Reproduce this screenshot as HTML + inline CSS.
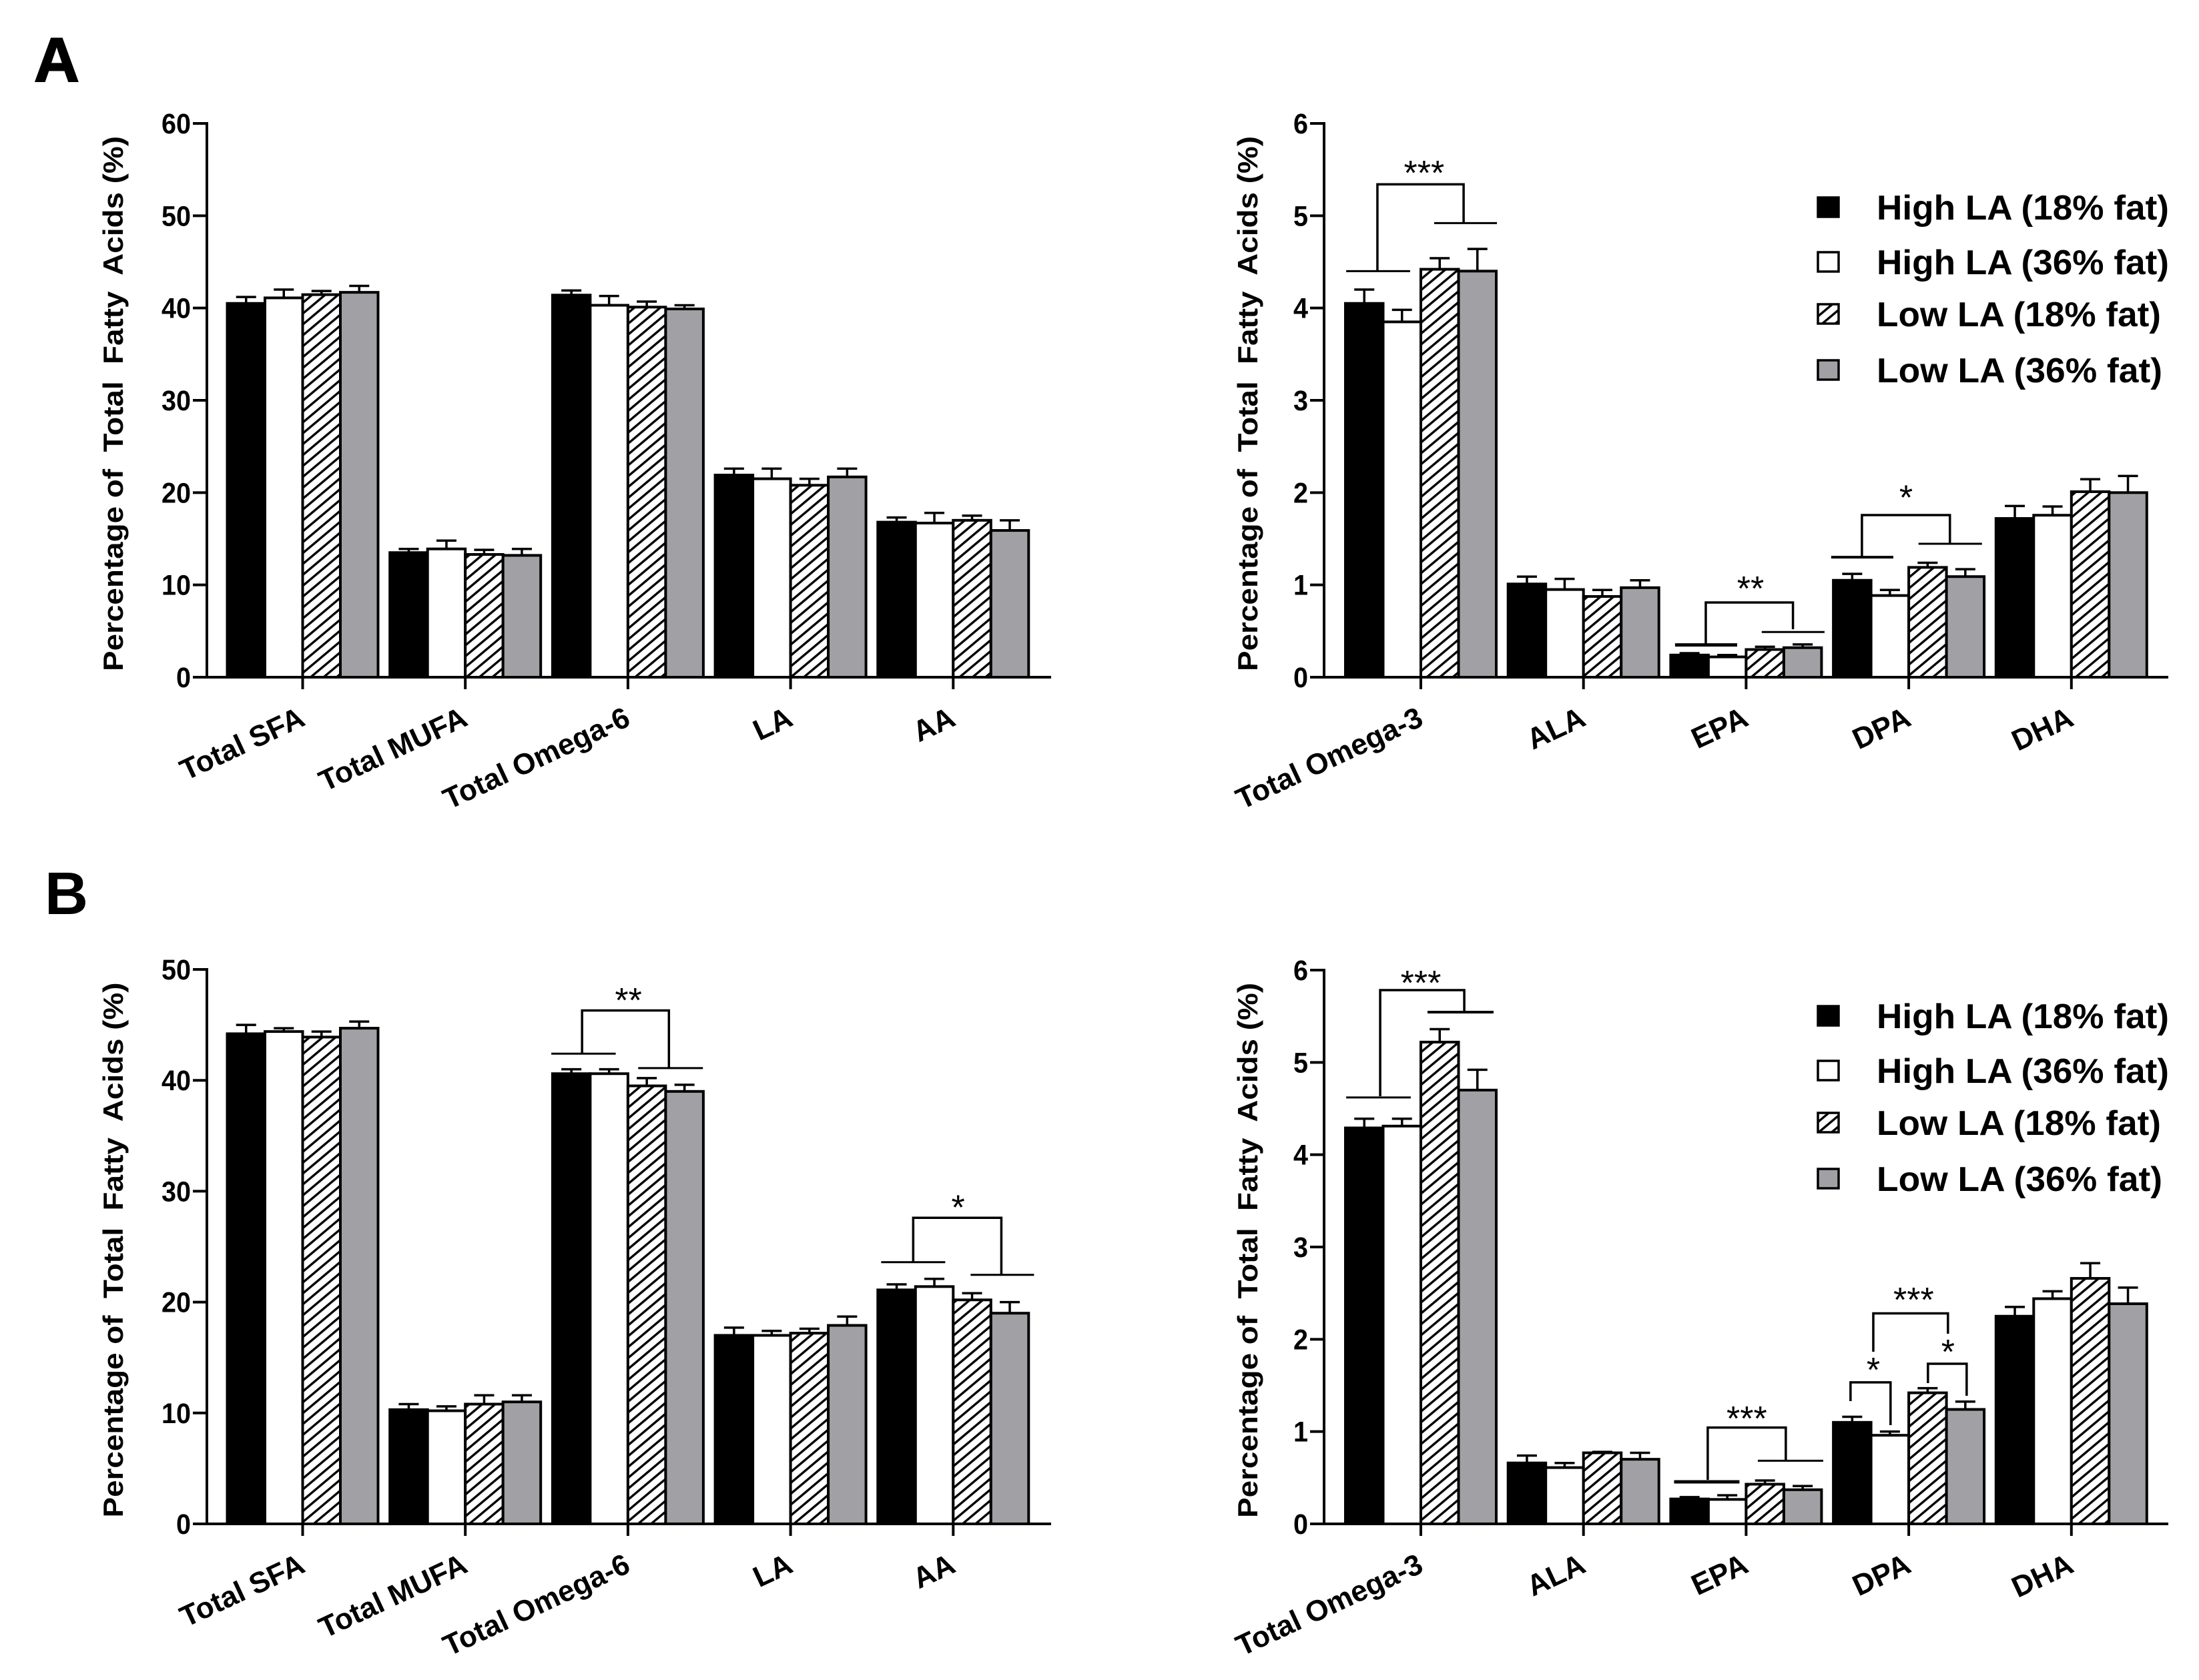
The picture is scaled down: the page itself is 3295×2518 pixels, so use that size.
<!DOCTYPE html>
<html lang="en">
<head>
<meta charset="utf-8">
<title>Fatty acid composition by diet</title>
<style>
html,body{margin:0;padding:0;background:#fff;}
svg{display:block;font-family:"Liberation Sans",Arial,sans-serif;}
text{white-space:pre;}
</style>
</head>
<body>
<svg id="figure" xmlns="http://www.w3.org/2000/svg" width="3295" height="2518" viewBox="0 0 3295 2518">
  <defs>
    <pattern id="hatch" patternUnits="userSpaceOnUse" width="12.5" height="12.5" patternTransform="rotate(50)">
      <rect width="12.5" height="12.5" fill="#fff"/>
      <rect x="0" y="0" width="3.4" height="12.5" fill="#000"/>
    </pattern>
  </defs>
  <rect width="3295" height="2518" fill="#fff"/>
  <text x="51" y="122" font-size="94" font-weight="700" stroke="#000" stroke-width="2">A</text>
  <text x="67" y="1370" font-size="90" font-weight="700">B</text>
  <g id="charts"></g>
</svg>
<script>
// ---------- Shared labels ----------
const groupNames = ['High LA (18% fat)', 'High LA (36% fat)', 'Low LA (18% fat)', 'Low LA (36% fat)'];
const lipidCategories = ['Total SFA', 'Total MUFA', 'Total Omega-6', 'LA', 'AA'];
const omegaCategories = ['Total Omega-3', 'ALA', 'EPA', 'DPA', 'DHA'];
const yTitle = 'Percentage of  Total  Fatty  Acids (%)';
const ticksLipidA = [0, 10, 20, 30, 40, 50, 60];
const ticksLipidB = [0, 10, 20, 30, 40, 50];
const ticksOmega = [0, 1, 2, 3, 4, 5, 6];

// ---------- Panel A, lipid classes ----------
const aLeftHigh18 = [40.5, 13.5, 41.4, 21.9, 16.8];
const aLeftHigh36 = [41.1, 13.9, 40.3, 21.5, 16.7];
const aLeftLow18 = [41.45, 13.3, 40.1, 20.8, 17.0];
const aLeftLow36 = [41.7, 13.2, 39.9, 21.7, 15.9];
const aLeftHigh18Err = [0.7, 0.4, 0.5, 0.7, 0.5];
const aLeftHigh36Err = [0.9, 0.9, 1.0, 1.1, 1.1];
const aLeftLow18Err = [0.4, 0.5, 0.6, 0.7, 0.5];
const aLeftLow36Err = [0.7, 0.7, 0.4, 0.9, 1.1];

// ---------- Panel A, omega-3 ----------
const aRightHigh18 = [4.05, 1.01, 0.24, 1.05, 1.72];
const aRightHigh36 = [3.85, 0.95, 0.22, 0.885, 1.755];
const aRightLow18 = [4.42, 0.875, 0.30, 1.19, 2.01];
const aRightLow36 = [4.40, 0.97, 0.32, 1.09, 2.00];
const aRightHigh18Err = [0.15, 0.08, 0.02, 0.07, 0.135];
const aRightHigh36Err = [0.13, 0.115, 0.02, 0.06, 0.095];
const aRightLow18Err = [0.12, 0.07, 0.03, 0.05, 0.135];
const aRightLow36Err = [0.24, 0.08, 0.035, 0.08, 0.18];

// ---------- Panel B, lipid classes ----------
const bLeftHigh18 = [44.2, 10.3, 40.6, 17.0, 21.1];
const bLeftHigh36 = [44.4, 10.2, 40.6, 17.0, 21.4];
const bLeftLow18 = [43.9, 10.8, 39.5, 17.2, 20.2];
const bLeftLow36 = [44.7, 11.0, 39.0, 17.9, 19.0];
const bLeftHigh18Err = [0.8, 0.5, 0.4, 0.7, 0.5];
const bLeftHigh36Err = [0.3, 0.4, 0.4, 0.4, 0.7];
const bLeftLow18Err = [0.5, 0.8, 0.7, 0.4, 0.6];
const bLeftLow36Err = [0.6, 0.6, 0.6, 0.8, 1.0];

// ---------- Panel B, omega-3 ----------
const bRightHigh18 = [4.29, 0.66, 0.27, 1.10, 2.25];
const bRightHigh36 = [4.31, 0.61, 0.265, 0.96, 2.44];
const bRightLow18 = [5.22, 0.77, 0.43, 1.42, 2.66];
const bRightLow36 = [4.70, 0.70, 0.37, 1.24, 2.385];
const bRightHigh18Err = [0.10, 0.08, 0.02, 0.06, 0.10];
const bRightHigh36Err = [0.08, 0.05, 0.045, 0.04, 0.08];
const bRightLow18Err = [0.14, 0.01, 0.04, 0.05, 0.165];
const bRightLow36Err = [0.22, 0.07, 0.04, 0.085, 0.175];

// ---------- Significance annotations: category units on x, data values on y ----------
// [left x, right x, bracket top value, left leg end value, right leg end value]
const aRightBrackets = [
  [-0.267, 0.263, 5.34, 4.40, 4.92],
  [1.752, 2.288, 0.81, 0.358, 0.52],
  [2.712, 3.253, 1.757, 1.30, 1.446]
];
// [left x, right x, value, stroke weight]
const aRightRules = [
  [-0.459, -0.066, 4.40, 3], [0.082, 0.468, 4.92, 3],
  [1.563, 1.945, 0.35, 5], [2.096, 2.482, 0.49, 3],
  [2.523, 2.905, 1.30, 4], [3.06, 3.45, 1.446, 3]
];
const aRightStars = [['***', 0.02, 5.51], ['**', 2.027, 1.005], ['*', 2.983, 1.99]];

const bLeftBrackets = [
  [1.718, 2.252, 46.3, 42.4, 41.1],
  [3.754, 4.296, 27.6, 23.6, 22.46]
];
const bLeftRules = [
  [1.529, 1.925, 42.4, 3], [2.063, 2.461, 41.1, 3],
  [3.557, 3.951, 23.6, 3], [4.107, 4.497, 22.46, 3]
];
const bLeftStars = [['**', 2.003, 47.6], ['*', 4.03, 28.9]];

const bRightBrackets = [
  [-0.25, 0.267, 5.783, 4.634, 5.545],
  [1.764, 2.244, 1.044, 0.477, 0.687],
  [2.642, 2.888, 1.533, 1.33, 1.07],
  [2.782, 3.241, 2.281, 1.865, 2.06],
  [3.118, 3.356, 1.735, 1.525, 1.388]
];
const bRightRules = [
  [-0.459, -0.062, 4.62, 3], [0.041, 0.447, 5.545, 4],
  [1.557, 1.959, 0.455, 5], [2.072, 2.474, 0.684, 3]
];
const bRightStars = [
  ['***', 0, 5.906], ['***', 2.004, 1.186], ['*', 2.782, 1.713],
  ['***', 3.03, 2.472], ['*', 3.241, 1.908]
];

// ---------- Panel definitions ----------
const panels = [
  { id: 'a-lipids', xZero: 453.5, axisX: 310, axisEnd: 1575, titleX: 184, yTop: 185, yBottom: 1015, max: 60,
    ticks: ticksLipidA, cats: lipidCategories,
    series: [aLeftHigh18, aLeftHigh36, aLeftLow18, aLeftLow36],
    errs: [aLeftHigh18Err, aLeftHigh36Err, aLeftLow18Err, aLeftLow36Err],
    brackets: [], rules: [], stars: [], legendRows: null },
  { id: 'a-omega3', xZero: 2129, axisX: 1984, axisEnd: 3249, titleX: 1884, yTop: 185, yBottom: 1015, max: 6,
    ticks: ticksOmega, cats: omegaCategories,
    series: [aRightHigh18, aRightHigh36, aRightLow18, aRightLow36],
    errs: [aRightHigh18Err, aRightHigh36Err, aRightLow18Err, aRightLow36Err],
    brackets: aRightBrackets, rules: aRightRules, stars: aRightStars, legendTop: 311 },
  { id: 'b-lipids', xZero: 453.5, axisX: 310, axisEnd: 1575, titleX: 184, yTop: 1453, yBottom: 2284, max: 50,
    ticks: ticksLipidB, cats: lipidCategories,
    series: [bLeftHigh18, bLeftHigh36, bLeftLow18, bLeftLow36],
    errs: [bLeftHigh18Err, bLeftHigh36Err, bLeftLow18Err, bLeftLow36Err],
    brackets: bLeftBrackets, rules: bLeftRules, stars: bLeftStars, legendRows: null },
  { id: 'b-omega3', xZero: 2129, axisX: 1984, axisEnd: 3249, titleX: 1884, yTop: 1454, yBottom: 2284, max: 6,
    ticks: ticksOmega, cats: omegaCategories,
    series: [bRightHigh18, bRightHigh36, bRightLow18, bRightLow36],
    errs: [bRightHigh18Err, bRightHigh36Err, bRightLow18Err, bRightLow36Err],
    brackets: bRightBrackets, rules: bRightRules, stars: bRightStars, legendTop: 1523 }
];

const fills = ['#000', '#fff', 'url(#hatch)', '#a1a1a5'];
const seriesSlugs = ['high-la-18', 'high-la-36', 'low-la-18', 'low-la-36'];
const legendOffsets = [0, 82, 160, 244];
const legendTextWidths = [438, 438, 426, 428];
const STEP = 243.7;
const BAR = 56.5;
const SVGNS = 'http://www.w3.org/2000/svg';
const root = document.getElementById('charts');

function make(tag, parent, props) {
  const node = document.createElementNS(SVGNS, tag);
  for (const key in props) node.setAttribute(key, props[key]);
  parent.appendChild(node);
  return node;
}

panels.forEach(function (p) {
  const xScale = function (c) { return p.xZero + c * STEP; };
  const yScale = function (v) { return p.yBottom - (v / p.max) * (p.yBottom - p.yTop); };

  const g = make('g', root, {});
  
  

  // bars and error bars
  p.series.forEach(function (values, s) {
    const sg = make('g', g, {});
    
    
    values.forEach(function (v, c) {
      const left = xScale(c) + (s - 2) * BAR;
      const top = yScale(v);
      const mid = left + BAR / 2;
      const errTop = yScale(v + p.errs[s][c]);

      const stem = make('line', sg, { x1: mid, x2: mid, y1: top, y2: errTop, stroke: '#000', 'stroke-width': 3.5 });
      
      

      const cap = make('line', sg, { x1: mid - 15, x2: mid + 15, y1: errTop, y2: errTop, stroke: '#000', 'stroke-width': 3.5 });
      
      

      const bar = make('rect', sg, { x: left, y: top, width: BAR, height: p.yBottom - top, fill: fills[s], stroke: '#000', 'stroke-width': 4 });
      
      
    });
  });

  // y axis
  const yAxis = make('line', g, { x1: p.axisX, x2: p.axisX, y1: p.yTop - 2, y2: p.yBottom, stroke: '#000', 'stroke-width': 4 });
  
  

  p.ticks.forEach(function (t) {
    const mark = make('line', g, { x1: p.axisX - 21, x2: p.axisX, y1: yScale(t), y2: yScale(t), stroke: '#000', 'stroke-width': 4 });
    
    

    const digits = String(t);
    const label = make('text', g, { x: p.axisX - 24, y: yScale(t) + 15, 'text-anchor': 'end', 'font-size': 43, 'font-weight': 700, textLength: digits.length * 22, lengthAdjust: 'spacingAndGlyphs' });
    label.textContent = digits;
    
    
  });

  const yMid = (p.yTop + p.yBottom) / 2 + 5;
  const title = make('text', g, { transform: 'translate(' + p.titleX + ',' + yMid + ') rotate(-90)', 'text-anchor': 'middle', 'font-size': 42, 'font-weight': 700, textLength: 802, lengthAdjust: 'spacingAndGlyphs' });
  title.textContent = yTitle;
  
  

  // x axis
  const xAxis = make('line', g, { x1: p.axisX - 18, x2: p.axisEnd, y1: p.yBottom, y2: p.yBottom, stroke: '#000', 'stroke-width': 4 });
  
  

  p.cats.forEach(function (name, c) {
    const mark = make('line', g, { x1: xScale(c), x2: xScale(c), y1: p.yBottom, y2: p.yBottom + 18, stroke: '#000', 'stroke-width': 4 });
    
    

    const label = make('text', g, { transform: 'translate(' + (xScale(c) + 6) + ',' + (p.yBottom + 71) + ') rotate(-25)', 'text-anchor': 'end', 'font-size': 44, 'font-weight': 700 });
    label.textContent = name;
    
    
  });

  // significance brackets
  p.brackets.forEach(function (b) {
    const d = 'M' + xScale(b[0]) + ' ' + yScale(b[3]) + 'V' + yScale(b[2]) + 'H' + xScale(b[1]) + 'V' + yScale(b[4]);
    const path = make('path', g, { d: d, fill: 'none', stroke: '#000', 'stroke-width': 3.5 });
    
    
  });
  p.rules.forEach(function (r) {
    const rule = make('line', g, { x1: xScale(r[0]), x2: xScale(r[1]), y1: yScale(r[2]), y2: yScale(r[2]), stroke: '#000', 'stroke-width': r[3] });
    
    
  });
  p.stars.forEach(function (s) {
    const star = make('text', g, { x: xScale(s[1]), y: yScale(s[2]) + 24, 'text-anchor': 'middle', 'font-size': 52 });
    star.textContent = s[0];
    
    
  });

  // legend
  if (p.legendTop) {
    const lg = make('g', g, {});
    
    
    groupNames.forEach(function (name, i) {
      const cy = p.legendTop + legendOffsets[i];
      const swatch = make('rect', lg, { x: 2724, y: cy - 15, width: 31, height: 29, fill: fills[i], stroke: '#000', 'stroke-width': 3.5 });
      
      

      const label = make('text', lg, { x: 2812, y: cy + 18, 'font-size': 52, 'font-weight': 700, textLength: legendTextWidths[i], lengthAdjust: 'spacingAndGlyphs' });
      label.textContent = name;
      
      
    });
  }
});
</script>
</body>
</html>
